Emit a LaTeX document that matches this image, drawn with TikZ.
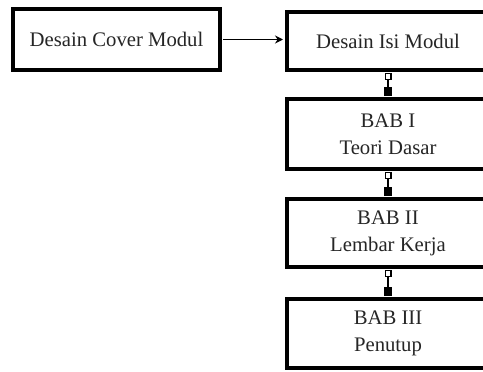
\documentclass[tikz,border=0pt]{standalone}
\usepackage{fontspec}
\setmainfont{Liberation Serif}
\usetikzlibrary{arrows.meta}
\begin{document}
\begin{tikzpicture}[x=1pt,y=-1pt,
  box/.style={draw=black, line width=4pt, fill=white, inner sep=0pt,
    align=center, font=\fontsize{20.7}{27}\selectfont, text=black!85},
  flow/.style={line width=1.8pt, -{Stealth[length=8pt,width=8pt]}, shorten >=2pt, shorten <=1pt},
  link/.style={line width=1.3pt,
    {Square[open,length=7pt,width=7pt,line width=1.2pt]}-{Square[length=9pt,width=8pt]},
    shorten <=1pt, shorten >=1pt}]
\useasboundingbox (0,0) rectangle (483,372);
\begin{scope}
\clip (0,0) rectangle (483,372);
\node[box, minimum width=207pt, minimum height=61pt] (cover) at (116.5,39.5) {Desain Cover Modul};
\node[box, minimum width=202pt, minimum height=58pt] (isi) at (388,41) {Desain Isi Modul};
\node[box, minimum width=202pt, minimum height=70pt] (bab1) at (388,134) {BAB I\\Teori Dasar};
\node[box, minimum width=202pt, minimum height=68pt] (bab2) at (388,233) {BAB II\\Lembar Kerja};
\node[box, minimum width=202pt, minimum height=69pt] (bab3) at (388,333.5) {BAB III\\Penutup};
\draw[flow] (cover.east) -- (cover.east -| isi.west);
\draw[link] (isi.south) -- (bab1.north);
\draw[link] (bab1.south) -- (bab2.north);
\draw[link] (bab2.south) -- (bab3.north);
\end{scope}
\end{tikzpicture}
\end{document}
